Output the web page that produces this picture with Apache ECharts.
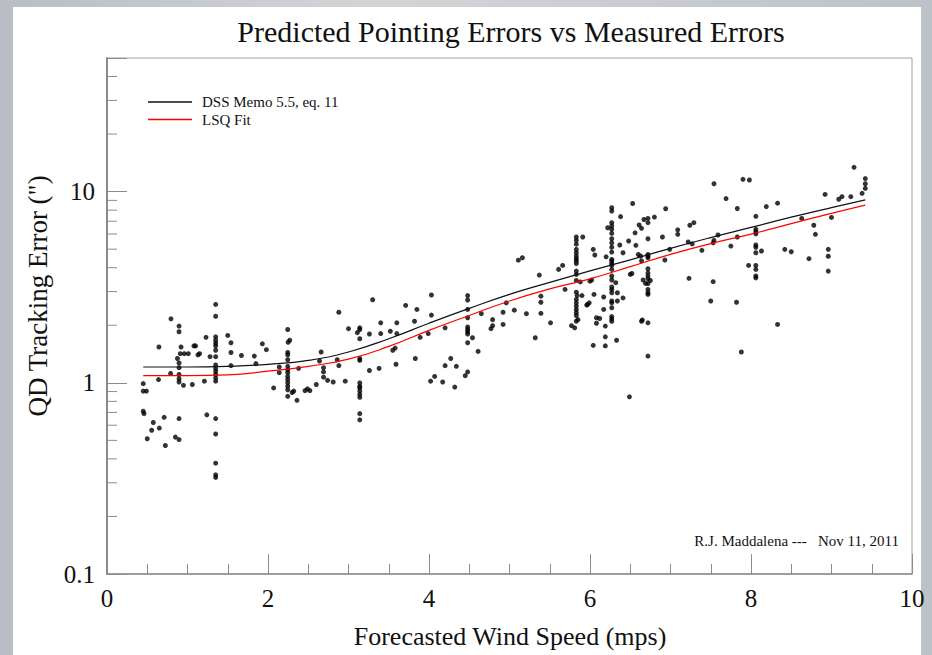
<!DOCTYPE html>
<html><head><meta charset="utf-8">
<script src="https://cdn.jsdelivr.net/npm/echarts@6/dist/echarts.min.js"></script>
<style>
html,body{margin:0;padding:0;width:932px;height:655px;overflow:hidden;}
#bg{position:absolute;left:0;top:0;width:932px;height:655px;background:linear-gradient(90deg,#b8bec3,#d2d5d8 40%,#c8ccd0 70%,#bcc2c7);}
#panel{position:absolute;left:13px;top:7px;width:908px;height:648px;background:#fff;}
#chart{position:absolute;left:0;top:0;width:932px;height:655px;}
</style></head>
<body><div id="bg"></div><div id="panel"></div><div id="chart"></div>
<script>
// ---- data ----
const titleText = 'Predicted Pointing Errors vs Measured Errors';
const xName = 'Forecasted Wind Speed (mps)';
const yName = 'QD Tracking Error (")';
const note = 'R.J. Maddalena ---   Nov 11, 2011';
const memoName = 'DSS Memo 5.5, eq. 11';
const lsqName = 'LSQ Fit';

const xTicks = [0, 2, 4, 6, 8, 10];
const yMajorTicks = [0.1, 1, 10];
const yMinorTicks = [0.2,0.3,0.4,0.5,0.6,0.7,0.8,0.9,2,3,4,5,6,7,8,9,20,30,40];

const curveWind = [0.45,1,1.5,2,2.5,3,3.5,4,4.5,5,5.5,6,6.5,7,7.5,8,8.5,9,9.42];
const memoErr   = [1.21,1.21,1.22,1.25,1.31,1.45,1.70,2.05,2.45,2.90,3.35,3.85,4.40,5.05,5.75,6.50,7.35,8.25,9.05];
const lsqErr    = [1.09,1.09,1.10,1.15,1.22,1.33,1.55,1.88,2.25,2.68,3.10,3.50,4.05,4.70,5.35,6.00,6.80,7.70,8.50];

// measured points [wind speed (mps), tracking error (")]
const measured = [
[0.45,0.99],[0.45,0.905],[0.49,0.905],[0.45,0.71],[0.46,0.69],[0.50,0.51],
[0.575,0.62],[0.555,0.565],[0.65,0.58],[0.71,0.66],[0.725,0.47],[0.64,1.04],[0.645,1.54],[0.79,1.12],[0.795,2.16],[0.85,0.52],[0.895,0.505],[0.895,0.65],
[0.895,1.98],[0.895,1.85],[0.92,1.54],[0.91,1.42],[0.96,1.42],[1.01,1.42],[0.875,1.34],[0.895,1.27],[0.895,1.20],[0.895,1.105],[0.895,1.05],[0.895,1.01],[0.95,0.97],[1.06,0.98],[1.08,1.56],[1.10,1.56],[1.15,1.42],[1.13,1.40],[1.21,1.02],[1.23,1.73],[1.24,0.68],[1.28,1.37],
[1.35,2.57],[1.35,2.23],[1.35,1.74],[1.35,1.67],[1.35,1.61],[1.35,1.56],[1.35,1.48],[1.35,1.37],[1.35,1.24],[1.35,1.19],[1.35,1.15],[1.35,1.105],[1.35,1.06],[1.35,1.02],[1.35,0.65],[1.35,0.54],[1.35,0.38],[1.35,0.33],[1.35,0.32],
[1.50,1.77],[1.54,1.62],[1.54,1.44],[1.54,1.23],[1.67,1.39],[1.83,1.38],[1.85,1.26],[1.93,1.60],[1.98,1.49],[2.07,0.94],
[2.245,1.90],[2.27,1.67],[2.25,1.63],[2.245,1.44],[2.245,1.40],[2.245,1.32],[2.245,1.22],[2.245,1.17],[2.245,1.13],[2.245,1.08],[2.245,1.04],[2.245,1.00],[2.245,0.96],[2.245,0.92],[2.245,0.85],
[2.14,1.21],[2.14,1.13],[2.30,0.89],[2.32,0.905],[2.36,0.81],[2.38,1.19],[2.46,0.91],[2.49,0.93],[2.52,0.91],[2.60,0.98],[2.66,1.45],[2.64,1.30],[2.69,1.20],[2.69,1.14],[2.69,1.07],[2.74,1.03],[2.81,1.01],[2.88,2.34],[2.88,1.23],[2.86,1.32],[2.96,1.02],[3.0,1.92],
[3.14,1.94],[3.14,1.90],[3.11,1.83],[3.14,1.70],[3.14,1.34],[3.14,1.31],[3.14,1.00],[3.14,0.96],[3.14,0.94],[3.14,0.905],[3.14,0.87],[3.14,0.84],[3.14,0.69],[3.14,0.64],
[3.26,1.80],[3.26,1.16],[3.30,2.72],[3.38,1.19],[3.40,2.06],[3.40,1.81],[3.52,1.86],[3.55,1.48],[3.58,1.52],[3.59,1.25],[3.60,2.06],[3.60,1.81],[3.71,2.54],[3.82,2.10],[3.85,2.42],[3.83,1.34],[3.89,1.73],[3.99,1.81],[4.03,2.88],[4.03,2.26],[4.02,1.02],[4.07,1.08],[4.17,1.01],[4.20,1.94],[4.20,1.23],[4.27,1.34],[4.34,1.22],[4.32,0.95],[4.45,1.09],[4.48,1.14],
[4.48,2.86],[4.48,2.71],[4.48,2.42],[4.48,2.19],[4.48,1.96],[4.48,1.90],[4.48,1.85],[4.48,1.80],[4.54,1.72],[4.48,1.62],[4.61,1.46],
[4.65,2.30],[4.77,1.92],[4.79,1.99],[4.79,2.14],[4.92,2.34],[4.92,2.02],[4.96,2.62],[5.06,2.40],[5.11,4.38],[5.16,4.51],[5.21,2.30],[5.32,1.72],[5.37,3.66],[5.39,2.31],[5.39,2.64],[5.39,2.84],[5.51,2.06],[5.61,3.92],[5.66,4.11],[5.69,3.08],
[5.83,5.79],[5.83,5.56],[5.83,5.31],[5.83,4.99],[5.83,4.79],[5.83,4.60],[5.83,4.46],[5.83,4.34],[5.83,4.21],[5.83,3.84],[5.83,3.69],[5.83,3.43],[5.88,3.37],[5.83,2.98],[5.84,2.86],[5.90,2.86],[5.83,2.73],[5.83,2.62],[5.83,2.52],[5.83,2.42],[5.83,2.33],[5.83,2.25],[5.85,2.14],[5.83,2.10],[5.77,1.99],[5.81,1.94],
[5.91,5.79],[5.97,2.57],[5.99,2.62],[5.96,2.55],[6.00,3.40],[6.02,3.45],[6.05,2.90],[6.04,4.99],[6.06,4.66],[6.04,1.57],[6.08,2.19],[6.12,2.17],[6.08,2.05],[6.17,2.81],[6.17,2.42],[6.19,1.56],[6.19,1.74],[6.19,1.98],[6.20,4.56],[6.22,6.47],
[6.27,8.24],[6.27,7.92],[6.27,6.88],[6.27,6.61],[6.27,6.35],[6.27,6.05],[6.27,5.67],[6.27,5.40],[6.27,5.12],[6.27,4.83],[6.27,4.42],[6.27,4.34],[6.27,4.21],[6.27,4.11],[6.27,3.92],[6.27,3.62],[6.27,3.45],[6.27,3.17],[6.27,3.08],[6.27,2.96],[6.27,2.68],[6.27,2.62],[6.27,2.47],[6.27,2.22],[6.27,2.16],[6.27,2.10],[6.34,2.96],[6.34,2.68],[6.32,3.34],[6.38,7.4],[6.37,5.26],[6.41,2.78],[6.41,4.79],[6.33,1.67],
[6.48,5.52],[6.50,3.69],[6.52,3.73],[6.53,8.67],[6.49,0.845],[6.56,6.09],[6.57,5.24],[6.60,4.69],[6.61,6.69],[6.64,6.43],[6.67,7.15],[6.72,7.24],[6.80,7.36],[6.72,6.88],[6.63,4.60],[6.64,4.34],[6.65,2.13],[6.66,3.45],[6.69,3.31],[6.64,2.10],
[6.72,5.67],[6.72,4.69],[6.72,4.60],[6.72,4.51],[6.72,3.95],[6.72,3.76],[6.72,3.62],[6.72,3.50],[6.75,3.43],[6.72,3.30],[6.72,3.08],[6.72,2.96],[6.72,2.90],[6.72,2.06],[6.72,1.38],
[6.90,5.79],[6.94,8.14],[6.93,4.39],[6.99,4.99],[7.09,6.31],[7.09,5.98],[7.23,3.52],[7.24,6.67],[7.29,6.88],[7.22,5.45],[7.27,5.33],[7.39,4.93],
[7.54,11.0],[7.69,9.2],[7.83,8.16],[7.90,11.6],[7.98,11.5],[8.06,7.43],[8.19,8.35],[8.33,8.7],[7.53,5.40],[7.54,5.56],[7.59,5.93],[7.75,5.19],[7.83,5.79],[7.53,3.38],[7.50,2.68],[7.82,2.64],[7.88,1.45],[7.97,4.11],
[8.06,6.35],[8.06,6.17],[8.06,6.02],[8.06,5.26],[8.06,5.12],[8.06,4.79],[8.06,4.11],[8.06,3.92],[8.06,3.62],[8.06,3.54],
[8.13,4.89],[8.33,2.02],[8.42,4.99],[8.50,4.85],[8.63,7.24],[8.72,4.46],[8.78,6.67],[8.80,5.98],[8.92,9.67],[9.00,7.33],[8.96,4.99],[8.96,4.59],[8.96,3.84],[9.09,9.12],[9.13,9.41],[9.24,9.41],[9.28,13.4],[9.38,9.8],[9.42,10.4],[9.42,11.0],[9.42,11.7]
];

// ---- chart ----
const FONT = "'Liberation Serif','DejaVu Serif',serif";
const AXIS_COLOR = '#8c8c8c';
const chart = echarts.init(document.getElementById('chart'), null, {renderer: 'svg'});

const zip = (xs, ys) => xs.map((x, i) => [x, ys[i]]);

chart.setOption({
  backgroundColor: 'transparent',
  animation: false,
  grid: {left: 107, right: 20, top: 58, bottom: 81, show: true, borderColor: '#a0a0a0', borderWidth: 1, backgroundColor: 'transparent'},
  xAxis: {
    type: 'value', min: xTicks[0], max: xTicks[xTicks.length - 1], interval: 2,
    axisLine: {lineStyle: {color: AXIS_COLOR, width: 1.5}},
    axisTick: {inside: true, length: 20, lineStyle: {color: AXIS_COLOR, width: 1}},
    minorTick: {show: true, splitNumber: 4, length: 10, lineStyle: {color: AXIS_COLOR, width: 1}},
    splitLine: {show: false},
    axisLabel: {color: '#111', fontFamily: FONT, fontSize: 25, margin: 12}
  },
  yAxis: {
    type: 'log', logBase: 10, min: yMajorTicks[0], max: 50,
    axisLine: {lineStyle: {color: AXIS_COLOR, width: 2}},
    axisTick: {inside: true, length: 20, lineStyle: {color: AXIS_COLOR, width: 1}},
    splitLine: {show: false},
    axisLabel: {color: '#111', fontFamily: FONT, fontSize: 25, margin: 12,
      formatter: v => (yMajorTicks.indexOf(+v.toPrecision(3)) >= 0 ? String(+v.toPrecision(3)) : '')}
  },
  legend: {
    data: [memoName, lsqName], orient: 'vertical', left: 143, top: 89, padding: 5,
    icon: 'rect', itemWidth: 44, itemHeight: 1.5, itemGap: 1.6,
    textStyle: {fontFamily: FONT, fontSize: 15, color: '#111', lineHeight: 16, padding: [0, 0, 0, 5]}
  },
  graphic: [
    {type: 'text', x: 511, y: 31, style: {text: titleText, fontFamily: FONT, fontSize: 30, fill: '#111', align: 'center', verticalAlign: 'middle'}},
    {type: 'text', x: 510, y: 636, style: {text: xName, fontFamily: FONT, fontSize: 26, fill: '#111', align: 'center', verticalAlign: 'middle'}},
    {type: 'text', x: 38, y: 296, rotation: Math.PI / 2, style: {text: yName, fontFamily: FONT, fontSize: 27, fill: '#111', align: 'center', verticalAlign: 'middle'}},
    {type: 'text', x: 899, y: 541, style: {text: note, fontFamily: FONT, fontSize: 15, fill: '#111', align: 'right', verticalAlign: 'middle'}}
  ],
  series: [
    {name: 'Measured', type: 'scatter', data: measured, symbolSize: 5, itemStyle: {color: '#000'}, z: 3},
    {name: memoName, type: 'line', data: zip(curveWind, memoErr), smooth: true, showSymbol: false, symbol: 'none',
      lineStyle: {color: '#111', width: 1.2}, itemStyle: {color: '#111'}, z: 4},
    {name: lsqName, type: 'line', data: zip(curveWind, lsqErr), smooth: true, showSymbol: false, symbol: 'none',
      lineStyle: {color: '#ff0000', width: 1.2}, itemStyle: {color: '#ff0000'}, z: 4},
    {name: 'yMinor', type: 'custom', silent: true, clip: false,
      data: yMinorTicks.map(v => [xTicks[0], v]),
      renderItem: (params, api) => {
        const p = api.coord([api.value(0), api.value(1)]);
        return {type: 'line', shape: {x1: p[0], y1: p[1], x2: p[0] + 10, y2: p[1]}, style: {stroke: AXIS_COLOR, lineWidth: 1}};
      }, z: 1}
  ]
});
</script>
</body></html>
